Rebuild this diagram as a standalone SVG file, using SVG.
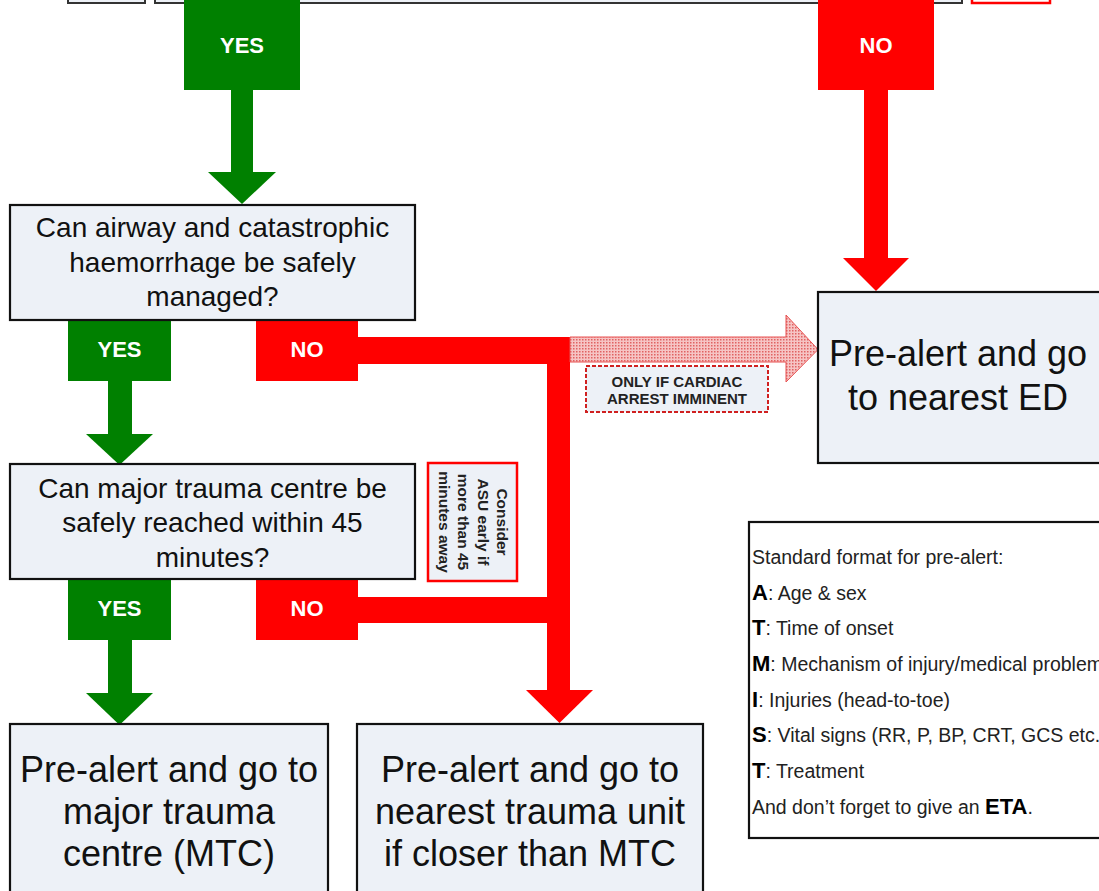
<svg xmlns="http://www.w3.org/2000/svg" width="1099" height="891" viewBox="0 0 1099 891">
<style>
.box{fill:#edf1f7;stroke:#111;stroke-width:2.2}
.q{font-family:"Liberation Sans",Arial,sans-serif;font-size:28px;fill:#111;text-anchor:middle}
.big{font-family:"Liberation Sans",Arial,sans-serif;font-size:36px;fill:#111;text-anchor:middle}
.lbl{font-family:"Liberation Sans",Arial,sans-serif;font-size:22px;font-weight:bold;fill:#fff;text-anchor:middle}
.g{fill:#008000}
.r{fill:#ff0000}
.leg{font-family:"Liberation Sans",Arial,sans-serif;font-size:19.5px;fill:#222}
.legb{font-weight:bold;font-size:22px;fill:#000}
.asu{font-family:"Liberation Sans",Arial,sans-serif;font-size:15.5px;font-weight:bold;fill:#222;text-anchor:middle}
.warn{font-family:"Liberation Sans",Arial,sans-serif;font-size:15px;font-weight:bold;fill:#222;text-anchor:middle}
</style>
<defs>
<pattern id="hatch" width="3" height="3" patternUnits="userSpaceOnUse">
<rect width="3" height="3" fill="#f6c4c4"/>
<rect width="1.5" height="1.5" fill="#e06262"/>
</pattern>
</defs>
<rect width="1099" height="891" fill="#fff"/>

<g id="top-boxes">
<rect x="68" y="-20" width="77" height="23" fill="#edf1f7" stroke="#333" stroke-width="2"/>
<rect x="155" y="-20" width="807" height="23" fill="#edf1f7" stroke="#333" stroke-width="2"/>
<rect x="972" y="-20" width="78" height="23" fill="#fff" stroke="#ff0000" stroke-width="2.5"/>
</g>

<g id="connectors">
<!-- top YES -->
<rect class="g" x="184" y="0" width="116" height="90"/>
<rect class="g" x="231" y="89" width="22" height="84"/>
<polygon class="g" points="208,172 276,172 242,204"/>
<text class="lbl" x="242" y="53">YES</text>
<!-- top NO -->
<rect class="r" x="818" y="0" width="116" height="90"/>
<rect class="r" x="864" y="89" width="24" height="170"/>
<polygon class="r" points="843,258 909,258 876,291"/>
<text class="lbl" x="876" y="53">NO</text>
<!-- box1 YES -->
<rect class="g" x="68" y="320" width="103" height="61"/>
<rect class="g" x="108" y="380" width="24" height="55"/>
<polygon class="g" points="86,434 153,434 119.5,465"/>
<text class="lbl" x="119.5" y="357">YES</text>
<!-- box1 NO -->
<rect class="r" x="256" y="320" width="102" height="61"/>
<rect class="r" x="357" y="337" width="213" height="27"/>
<rect class="r" x="547" y="337" width="23" height="354"/>
<polygon class="r" points="526,690 593,690 559.5,723"/>
<text class="lbl" x="307" y="357">NO</text>
<!-- hatched arrow -->
<polygon points="570,337 786,337 786,315 818,349.5 786,382 786,362 570,362" fill="url(#hatch)" stroke="#e85050" stroke-width="1"/>
<!-- box2 YES -->
<rect class="g" x="68" y="579" width="103" height="61"/>
<rect class="g" x="108" y="639" width="24" height="55"/>
<polygon class="g" points="86,693 153,693 119.5,725"/>
<text class="lbl" x="119.5" y="616">YES</text>
<!-- box2 NO -->
<rect class="r" x="256" y="579" width="102" height="61"/>
<rect class="r" x="357" y="597" width="213" height="26"/>
<text class="lbl" x="307" y="616">NO</text>
</g>

<g id="q-airway">
<rect class="box" x="10" y="205" width="405" height="115"/>
<text class="q" x="212.5" y="237">Can airway and catastrophic</text>
<text class="q" x="212.5" y="272">haemorrhage be safely</text>
<text class="q" x="212.5" y="306">managed?</text>
</g>

<g id="q-mtc">
<rect class="box" x="10" y="464" width="405" height="115"/>
<text class="q" x="212.5" y="498">Can major trauma centre be</text>
<text class="q" x="212.5" y="532">safely reached within 45</text>
<text class="q" x="212.5" y="567">minutes?</text>
</g>

<g id="asu-note">
<rect x="428" y="463" width="89" height="118" fill="#edf1f7" stroke="#ff0000" stroke-width="2.5"/>
<text class="asu" transform="translate(497,522) rotate(90)">Consider</text>
<text class="asu" transform="translate(478,522) rotate(90)">ASU early if</text>
<text class="asu" transform="translate(458,522) rotate(90)">more than 45</text>
<text class="asu" transform="translate(438.5,522) rotate(90)">minutes away</text>
</g>

<g id="cardiac-note">
<rect x="586" y="366" width="182" height="46" fill="#edf1f7" stroke="#d02020" stroke-width="2" stroke-dasharray="4,2"/>
<text class="warn" x="677" y="387">ONLY IF CARDIAC</text>
<text class="warn" x="677" y="404">ARREST IMMINENT</text>
</g>

<g id="ed">
<rect class="box" x="818" y="292" width="300" height="171"/>
<text class="big" x="958" y="366">Pre-alert and go</text>
<text class="big" x="958" y="410">to nearest ED</text>
</g>

<g id="mtc">
<rect class="box" x="10" y="724" width="318" height="190"/>
<text class="big" x="169" y="782">Pre-alert and go to</text>
<text class="big" x="169" y="824">major trauma</text>
<text class="big" x="169" y="866">centre (MTC)</text>
</g>

<g id="tu">
<rect class="box" x="357" y="724" width="346" height="190"/>
<text class="big" x="530" y="782">Pre-alert and go to</text>
<text class="big" x="530" y="824">nearest trauma unit</text>
<text class="big" x="530" y="866">if closer than MTC</text>
</g>

<g id="legend">
<rect x="749" y="522" width="370" height="316" fill="#fff" stroke="#111" stroke-width="2.2"/>
<text class="leg" x="752" y="564">Standard format for pre-alert:</text>
<text class="leg" x="752" y="600"><tspan class="legb">A</tspan>: Age &amp; sex</text>
<text class="leg" x="752" y="635"><tspan class="legb">T</tspan>: Time of onset</text>
<text class="leg" x="752" y="671"><tspan class="legb">M</tspan>: Mechanism of injury/medical problem</text>
<text class="leg" x="752" y="707"><tspan class="legb">I</tspan>: Injuries (head-to-toe)</text>
<text class="leg" x="752" y="742"><tspan class="legb">S</tspan>: Vital signs (RR, P, BP, CRT, GCS etc.)</text>
<text class="leg" x="752" y="778"><tspan class="legb">T</tspan>: Treatment</text>
<text class="leg" x="752" y="814">And don’t forget to give an <tspan class="legb">ETA</tspan>.</text>
</g>
</svg>
